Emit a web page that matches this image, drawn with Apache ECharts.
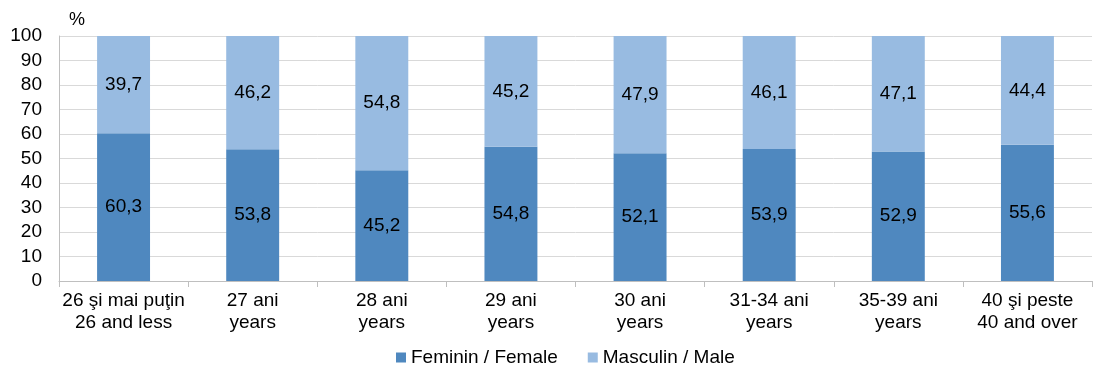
<!DOCTYPE html>
<html>
<head>
<meta charset="utf-8">
<script src="https://cdn.jsdelivr.net/npm/echarts@6/dist/echarts.min.js"></script>
<style>
  html, body { margin: 0; padding: 0; background: #fff; }
  #chart { width: 1099px; height: 367px; }
</style>
</head>
<body>
<div id="chart"></div>
<script>
  // categories (ro / en)
  var categories = [
    '26 şi mai puţin\n26 and less',
    '27 ani\nyears',
    '28 ani\nyears',
    '29 ani\nyears',
    '30 ani\nyears',
    '31-34 ani\nyears',
    '35-39 ani\nyears',
    '40 şi peste\n40 and over'
  ];
  var female = [60.3, 53.8, 45.2, 54.8, 52.1, 53.9, 52.9, 55.6];
  var male = [39.7, 46.2, 54.8, 45.2, 47.9, 46.1, 47.1, 44.4];

  var font = 'Liberation Sans, Arial, sans-serif';
  var labelFmt = function (p) { return String(p.value).replace('.', ','); };

  var chart = echarts.init(document.getElementById('chart'));
  chart.setOption({
    animation: false,
    textStyle: { fontFamily: font },
    grid: { left: 59, right: 7, top: 36, bottom: 86 },
    legend: {
      top: 343,
      left: 391,
      itemWidth: 10,
      itemHeight: 10,
      itemGap: 30,
      icon: 'rect',
      textStyle: { fontSize: 19, color: '#000', fontFamily: font },
      data: ['Feminin / Female', 'Masculin / Male']
    },
    xAxis: {
      type: 'category',
      data: categories,
      axisLine: { lineStyle: { color: '#bfbfbf' } },
      axisTick: { show: true, length: 6, lineStyle: { color: '#bfbfbf' } },
      axisLabel: { color: '#000', fontSize: 19, lineHeight: 22, margin: 9, interval: 0 }
    },
    yAxis: {
      type: 'value',
      min: 0,
      max: 100,
      interval: 10,
      name: '%',
      nameLocation: 'end',
      nameGap: 7,
      nameTextStyle: { color: '#000', fontSize: 18, align: 'right', padding: [0, -26, 0, 0] },
      axisLine: { show: true, lineStyle: { color: '#bfbfbf' } },
      axisTick: { show: false },
      splitLine: { lineStyle: { color: '#d9d9d9' } },
      axisLabel: { color: '#000', fontSize: 19, margin: 17 }
    },
    series: [
      {
        name: 'Feminin / Female',
        type: 'bar',
        stack: 'total',
        barWidth: '41%',
        data: female,
        itemStyle: { color: '#4f88bf' },
        label: { show: true, position: 'inside', color: '#000', fontSize: 19, formatter: labelFmt }
      },
      {
        name: 'Masculin / Male',
        type: 'bar',
        stack: 'total',
        barWidth: '41%',
        data: male,
        itemStyle: { color: '#98bbe1' },
        label: { show: true, position: 'inside', color: '#000', fontSize: 19, formatter: labelFmt }
      }
    ]
  });
</script>
</body>
</html>
